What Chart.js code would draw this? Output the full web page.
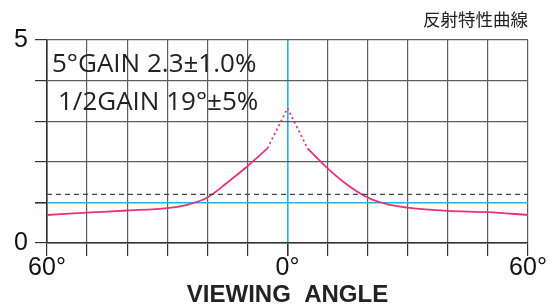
<!DOCTYPE html>
<html>
<head>
<meta charset="utf-8">
<script src="https://cdn.jsdelivr.net/npm/chart.js@4"></script>
<style>
  html, body { margin: 0; padding: 0; background: #fff; }
  #wrap { width: 555px; height: 306px; }
</style>
</head>
<body>
<div id="wrap"><canvas id="chart"></canvas></div>
<script>
const leftAngles = [-60, -50, -40, -30, -25, -20, -15, -10, -5];
const leftGain = [0.69, 0.75, 0.80, 0.86, 0.94, 1.12, 1.49, 1.89, 2.33];
const peakAngles = [-5, 0, 5];
const peakGain = [2.33, 3.32, 2.33];
const rightAngles = [5, 10, 15, 20, 25, 30, 40, 50, 60];
const rightGain = [2.33, 1.84, 1.43, 1.12, 0.95, 0.87, 0.79, 0.76, 0.69];
const refAngles = [-60, 60];
const refGain = [1.2, 1.2];
const xTickLabels = { '-60': '60°', '0': '0°', '60': '60°' };
const yTickLabels = { '0': '0', '5': '5' };
const titleText = '反射特性曲線';
const noteLines = ['5°GAIN 2.3±1.0%', '1/2GAIN 19°±5%'];

const pink = '#e8307e';
const cyan = '#22b4e6';
const grid = '#5e5e5e';

function toPoints(xs, ys) {
    return xs.map((x, i) => ({ x: x, y: ys[i] }));
}

// Texte d'annotation dans la zone du graphique
const notesPlugin = {
    id: 'notes',
    afterDraw(chart) {
        const ctx = chart.ctx;
        ctx.save();
        ctx.fillStyle = '#222';
        ctx.font = '26px "Open Sans", sans-serif';
        ctx.textBaseline = 'alphabetic';
        ctx.fillText(noteLines[0], 52, 72);
        ctx.fillText(noteLines[1], 58, 110);
        ctx.restore();
    }
};

new Chart(document.getElementById('chart'), {
    type: 'line',
    data: {
        datasets: [
            {
                data: toPoints(refAngles, refGain),
                borderColor: '#444',
                borderWidth: 1.3,
                borderDash: [5, 4],
                pointRadius: 0,
            },
            {
                data: toPoints(leftAngles, leftGain),
                borderColor: pink,
                borderWidth: 1.8,
                pointRadius: 0,
                cubicInterpolationMode: 'monotone',
            },
            {
                data: toPoints(peakAngles, peakGain),
                borderColor: pink,
                borderWidth: 1.8,
                borderDash: [2, 3],
                pointRadius: 0,
            },
            {
                data: toPoints(rightAngles, rightGain),
                borderColor: pink,
                borderWidth: 1.8,
                pointRadius: 0,
                cubicInterpolationMode: 'monotone',
            },
        ],
    },
    options: {
        responsive: true,
        maintainAspectRatio: false,
        animation: false,
        layout: { padding: { left: 0, right: 27, top: 0, bottom: 0 } },
        plugins: {
            legend: { display: false },
            tooltip: { enabled: false },
            title: {
                display: true,
                text: titleText,
                align: 'end',
                color: '#222',
                font: { family: '"Noto Sans CJK JP", sans-serif', size: 17.5, weight: 'normal' },
                padding: { top: 9, bottom: 10 },
            },
        },
        scales: {
            x: {
                type: 'linear',
                min: -60,
                max: 60,
                ticks: {
                    stepSize: 10,
                    autoSkip: false,
                    maxRotation: 0,
                    color: '#111',
                    padding: -3,
                    font: { family: '"Liberation Sans", Arial, sans-serif', size: 25 },
                    callback: (v) => xTickLabels[String(v)] || '',
                },
                grid: {
                    color: (c) => (c.tick && c.tick.value === 0 ? cyan : grid),
                    lineWidth: (c) => (c.tick && c.tick.value === 0 ? 1.6 : 1.2),
                    tickColor: '#333',
                    tickLength: 13,
                },
                border: { color: '#333', width: 1.6 },
                title: {
                    display: true,
                    text: 'VIEWING  ANGLE',
                    color: '#222',
                    font: { family: '"Liberation Sans", Arial, sans-serif', size: 24, weight: 'bold' },
                    padding: { top: 0, bottom: -4 },
                },
                afterFit: (s) => { s.height = 63; },
            },
            y: {
                min: 0,
                max: 5,
                ticks: {
                    stepSize: 1,
                    color: '#111',
                    padding: 7,
                    font: { family: '"Liberation Sans", Arial, sans-serif', size: 25 },
                    callback: (v) => yTickLabels[String(v)] || '',
                },
                grid: {
                    color: (c) => (c.tick && c.tick.value === 1 ? cyan : grid),
                    lineWidth: (c) => (c.tick && c.tick.value === 1 ? 1.6 : 1.2),
                    tickColor: '#333',
                    tickLength: 12,
                },
                border: { color: '#333', width: 1.6 },
                afterFit: (s) => { s.width = 47; },
            },
        },
    },
    plugins: [notesPlugin],
});
</script>
</body>
</html>
